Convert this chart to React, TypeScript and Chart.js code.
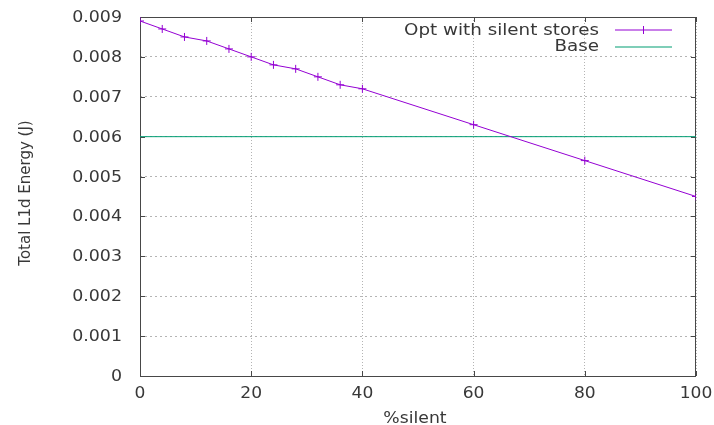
import React, { useEffect, useRef } from "react";
import { Chart, registerables } from "chart.js";

Chart.register(...registerables);

const silentPct = [0, 4, 8, 12, 16, 20, 24, 28, 32, 36, 40, 60, 80, 100];
const optEnergy = [0.0089, 0.0087, 0.0085, 0.0084, 0.0082, 0.008, 0.0078, 0.0077, 0.0075, 0.0073, 0.0072, 0.0063, 0.0054, 0.0045];
const baseX = [0, 100];
const baseEnergy = [0.006, 0.006];
const seriesLabels = ["Opt with silent stores", "Base"];
const xTitle = "%silent";
const yTitle = "Total L1d Energy (J)";

const TEXT = "#383838";
const FONT = "'DejaVu Sans', sans-serif";

function stretchedText(ctx: CanvasRenderingContext2D, text: string, x: number, y: number, align: "left" | "right" | "center", sx: number) {
  ctx.save();
  ctx.textAlign = "left";
  ctx.textBaseline = "alphabetic";
  const w = ctx.measureText(text).width * sx;
  let x0 = x;
  if (align === "right") x0 = x - w;
  else if (align === "center") x0 = x - w / 2;
  ctx.translate(x0, y);
  ctx.scale(sx, 1);
  ctx.fillText(text, 0, 0);
  ctx.restore();
}

const yTickLabel = (v: number) => (v === 0 ? "0" : v.toFixed(3));

const framePlugin = {
  id: "gnuFrame",
  beforeDatasetsDraw(chart: any) {
    const { ctx, chartArea: a, scales } = chart;
    ctx.save();
    ctx.strokeStyle = "#484848";
    ctx.lineWidth = 1;
    ctx.strokeRect(a.left + 0.5, a.top + 0.5, a.right - a.left - 1, a.bottom - a.top);
    ctx.beginPath();
    const tl = 5;
    scales.y.ticks.forEach((t: any) => {
      const y = Math.round(scales.y.getPixelForValue(t.value)) + 0.5;
      ctx.moveTo(a.left, y); ctx.lineTo(a.left + tl, y);
      ctx.moveTo(a.right, y); ctx.lineTo(a.right - tl, y);
    });
    scales.x.ticks.forEach((t: any) => {
      const x = Math.round(scales.x.getPixelForValue(t.value)) + 0.5;
      ctx.moveTo(x, a.bottom); ctx.lineTo(x, a.bottom - tl);
      ctx.moveTo(x, a.top); ctx.lineTo(x, a.top + tl);
    });
    ctx.stroke();
    ctx.restore();
  },
  afterDraw(chart: any) {
    const { ctx, chartArea: a, scales } = chart;
    ctx.save();
    ctx.fillStyle = TEXT;
    ctx.font = `15px ${FONT}`;

    // tick labels
    scales.y.ticks.forEach((t: any) => {
      const y = scales.y.getPixelForValue(t.value);
      stretchedText(ctx, yTickLabel(Number(t.value)), 122, y + 5, "right", 1.16);
    });
    scales.x.ticks.forEach((t: any) => {
      const x = scales.x.getPixelForValue(t.value);
      stretchedText(ctx, String(t.value), x, a.bottom + 22, "center", 1.14);
    });

    // x title
    stretchedText(ctx, xTitle, (a.left + a.right) / 2 - 3, 423, "center", 1.15);

    // y title (rotated, not stretched)
    ctx.save();
    ctx.textAlign = "center";
    ctx.textBaseline = "middle";
    ctx.translate(26, 193);
    ctx.rotate(-Math.PI / 2);
    ctx.fillText(yTitle, 0, 0);
    ctx.restore();

    // legend
    const textBase = [35, 51];
    const lineY = [30, 47];
    chart.data.datasets.forEach((ds: any, i: number) => {
      ctx.fillStyle = TEXT;
      stretchedText(ctx, ds.label, 599, textBase[i], "right", 1.22);
      ctx.beginPath();
      ctx.strokeStyle = ds.borderColor;
      ctx.lineWidth = 1.2;
      ctx.moveTo(615, lineY[i]);
      ctx.lineTo(672, lineY[i]);
      ctx.stroke();
      if (ds.pointRadius > 0) {
        ctx.beginPath();
        ctx.lineWidth = 1;
        ctx.moveTo(643.5, lineY[i] - 4);
        ctx.lineTo(643.5, lineY[i] + 4);
        ctx.stroke();
      }
    });
    ctx.restore();
  },
};

export default function App() {
  const ref = useRef<HTMLCanvasElement | null>(null);
  useEffect(() => {
    document.body.style.margin = "0";
    const chart = new Chart(ref.current as HTMLCanvasElement, {
      type: "line",
      data: {
        datasets: [
          {
            label: seriesLabels[0],
            data: silentPct.map((x, i) => ({ x, y: optEnergy[i] })),
            borderColor: "#9400d3",
            backgroundColor: "#9400d3",
            borderWidth: 1,
            pointStyle: "cross",
            pointRadius: 4,
            pointBorderWidth: 1,
            tension: 0,
          },
          {
            label: seriesLabels[1],
            data: baseX.map((x, i) => ({ x, y: baseEnergy[i] })),
            borderColor: "#009e73",
            backgroundColor: "#009e73",
            borderWidth: 1,
            pointRadius: 0,
            tension: 0,
          },
        ],
      },
      options: {
        animation: false,
        responsive: false,
        devicePixelRatio: 1,
        layout: { padding: { left: 0, right: 18, top: 17, bottom: 0 } },
        plugins: { legend: { display: false }, tooltip: { enabled: false } },
        scales: {
          x: {
            type: "linear",
            min: 0,
            max: 100,
            ticks: { stepSize: 20, display: false },
            grid: { color: "#b4b4b4", drawTicks: false },
            border: { display: false, dash: [1, 2] },
            title: { display: false },
            afterFit: (s: any) => {
              s.height = 49;
              s.paddingLeft = 0; s.paddingRight = 0; s.paddingTop = 0; s.paddingBottom = 0;
            },
          },
          y: {
            min: 0,
            max: 0.009,
            ticks: { stepSize: 0.001, display: false },
            grid: { color: "#b4b4b4", drawTicks: false },
            border: { display: false, dash: [2, 3] },
            afterFit: (s: any) => {
              s.width = 140;
              s.paddingLeft = 0; s.paddingRight = 0; s.paddingTop = 0; s.paddingBottom = 0;
            },
          },
        },
      },
      plugins: [framePlugin],
    });
    return () => chart.destroy();
  }, []);
  return (
    <div style={{ width: 714, height: 425 }}>
      <canvas ref={ref} width={714} height={425} style={{ display: "block" }} />
    </div>
  );
}
